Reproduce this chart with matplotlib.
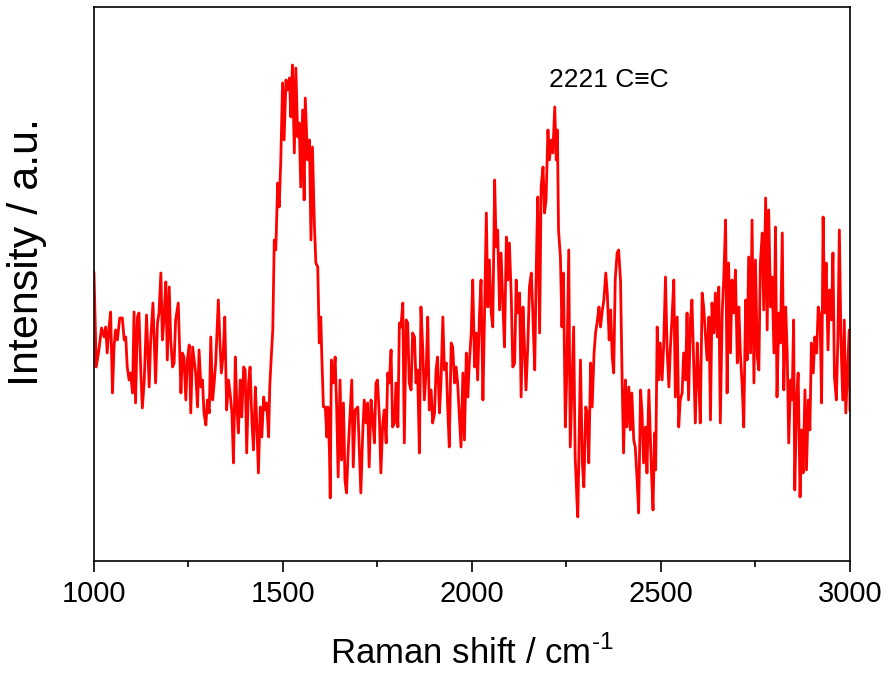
import numpy as np
import matplotlib
matplotlib.use('Agg')
import matplotlib.pyplot as plt
from matplotlib.ticker import MultipleLocator

# Raman spectrum, split into four ranges
shift_a = [1000, 1006, 1013, 1020, 1027, 1031, 1035, 1040, 1044, 1049, 1053, 1057, 1062, 1068, 1075, 1080, 1084, 1088,
           1093, 1097, 1102, 1106, 1110, 1115, 1119, 1124, 1128, 1133, 1139, 1146, 1150, 1156, 1163, 1168, 1172, 1177,
           1181, 1185, 1190, 1194, 1199, 1203, 1208, 1212, 1216, 1223, 1230, 1234, 1238, 1243, 1247, 1252, 1256, 1261,
           1265, 1269, 1274, 1278, 1283, 1287, 1291, 1296, 1300, 1305, 1309, 1314, 1318, 1322, 1329, 1333, 1337, 1342,
           1346, 1351, 1356, 1360, 1365, 1369, 1374, 1378, 1382, 1387, 1391, 1396, 1400, 1404, 1409, 1413, 1418, 1422,
           1427, 1431, 1435, 1440, 1444, 1449, 1453, 1457, 1462, 1465, 1469, 1473, 1477, 1481]
intensity_a = [287, 193, 210, 232, 223, 233, 207, 233, 248, 167, 213, 230, 220, 242, 242, 220, 223, 193,
               180, 187, 167, 248, 157, 243, 247, 187, 152, 180, 245, 173, 220, 257, 177, 237, 247, 287,
               220, 240, 278, 200, 273, 220, 193, 197, 240, 257, 167, 207, 203, 160, 200, 215, 147, 213,
               200, 187, 153, 210, 173, 180, 147, 135, 160, 147, 223, 160, 177, 197, 260, 220, 187, 207,
               243, 150, 180, 167, 147, 97, 203, 153, 127, 180, 143, 193, 190, 107, 177, 193, 137, 110,
               173, 133, 87, 153, 123, 163, 150, 157, 123, 173, 203, 230, 320, 310]

shift_b = [1486, 1490, 1494, 1499, 1503, 1508, 1512, 1517, 1521, 1525, 1530, 1534, 1539, 1543, 1547, 1552, 1556, 1559,
           1565, 1570, 1574, 1578, 1583, 1587, 1592, 1596, 1600, 1603, 1607, 1612, 1616, 1619, 1623, 1625, 1628, 1633,
           1638, 1642, 1646, 1651, 1655, 1660, 1664, 1668, 1673, 1677, 1682, 1686, 1691, 1698, 1702, 1706, 1711, 1715,
           1720, 1724, 1728, 1733, 1737, 1742, 1746, 1750, 1755, 1759, 1764, 1768, 1773, 1777, 1781, 1786, 1790, 1795,
           1799, 1804, 1808, 1812, 1817, 1821, 1826, 1830, 1834, 1839, 1843, 1848, 1852, 1856, 1861, 1865, 1870, 1874,
           1879, 1883, 1887, 1892, 1896, 1901, 1905, 1909, 1914, 1918, 1923, 1927, 1932, 1936, 1940, 1945, 1949, 1954,
           1958, 1962]
intensity_b = [377, 353, 397, 477, 420, 480, 470, 482, 443, 495, 407, 492, 423, 437, 373, 450, 360, 462,
               400, 420, 320, 413, 337, 297, 293, 217, 243, 200, 153, 153, 123, 153, 107, 62, 200, 177,
               203, 153, 83, 180, 100, 157, 80, 67, 113, 143, 180, 93, 150, 153, 110, 67, 127, 160,
               137, 157, 93, 160, 143, 117, 177, 180, 143, 87, 137, 150, 117, 187, 177, 210, 133, 137,
               177, 133, 237, 233, 257, 117, 240, 237, 177, 170, 227, 223, 177, 190, 107, 253, 210, 160,
               190, 243, 150, 170, 137, 147, 190, 203, 147, 177, 243, 190, 197, 150, 113, 217, 213, 177,
               193, 177]

shift_c = [1971, 1976, 1980, 1985, 1989, 1993, 1998, 2002, 2007, 2011, 2015, 2020, 2024, 2029, 2033, 2038, 2042, 2046,
           2051, 2055, 2060, 2064, 2068, 2073, 2077, 2082, 2086, 2091, 2095, 2099, 2104, 2108, 2113, 2117, 2121, 2126,
           2130, 2135, 2139, 2143, 2148, 2152, 2157, 2161, 2166, 2170, 2174, 2179, 2183, 2188, 2192, 2196, 2201, 2205,
           2210, 2214, 2219, 2223, 2226, 2229, 2234, 2238, 2242, 2247, 2251, 2256, 2260, 2265, 2269, 2273, 2278, 2280,
           2283, 2287, 2292, 2296, 2301, 2305, 2309, 2314, 2318, 2323, 2327, 2332, 2336, 2340, 2345, 2349, 2354, 2358,
           2363, 2367, 2371, 2375, 2379, 2384, 2388, 2393, 2397, 2401, 2406, 2410, 2415, 2419, 2423, 2428, 2432, 2437,
           2441, 2446, 2450, 2454, 2459, 2463, 2468]
intensity_c = [113, 187, 120, 207, 163, 197, 227, 280, 193, 227, 180, 247, 280, 160, 240, 347, 253, 300,
               247, 233, 380, 313, 330, 250, 307, 253, 213, 323, 280, 317, 263, 193, 197, 280, 247, 267,
               163, 253, 213, 170, 217, 273, 287, 247, 190, 290, 363, 227, 373, 393, 347, 360, 430, 400,
               420, 407, 453, 400, 430, 330, 303, 233, 287, 133, 187, 310, 113, 180, 233, 103, 57, 43,
               113, 200, 97, 73, 153, 147, 97, 197, 153, 207, 227, 240, 253, 233, 250, 260, 287, 267,
               220, 250, 203, 187, 280, 307, 310, 280, 187, 107, 180, 133, 173, 130, 167, 120, 113, 80,
               47, 170, 147, 97, 133, 87, 170]

shift_d = [2475, 2479, 2483, 2486, 2490, 2494, 2498, 2503, 2507, 2512, 2516, 2521, 2525, 2529, 2534, 2538, 2543, 2547,
           2551, 2556, 2560, 2565, 2569, 2573, 2578, 2582, 2587, 2591, 2596, 2600, 2604, 2609, 2613, 2618, 2622, 2627,
           2631, 2635, 2640, 2644, 2649, 2653, 2657, 2662, 2666, 2671, 2675, 2679, 2684, 2688, 2693, 2697, 2702, 2706,
           2710, 2715, 2719, 2724, 2728, 2732, 2737, 2741, 2746, 2750, 2755, 2759, 2763, 2768, 2772, 2777, 2781, 2785,
           2790, 2794, 2799, 2803, 2807, 2812, 2816, 2821, 2825, 2830, 2834, 2838, 2843, 2847, 2851, 2854, 2859, 2863,
           2868, 2872, 2876, 2881, 2885, 2890, 2894, 2898, 2903, 2907, 2912, 2916, 2921, 2925, 2929, 2933, 2937, 2942,
           2946, 2951, 2955, 2959, 2964, 2968, 2972, 2976, 2981, 2985, 2989, 2994, 2998, 3000]
intensity_d = [87, 50, 127, 90, 233, 180, 217, 180, 213, 283, 213, 173, 213, 240, 280, 163, 243, 133,
               160, 167, 207, 180, 247, 160, 240, 260, 193, 137, 217, 180, 137, 267, 253, 223, 200, 243,
               140, 257, 227, 267, 223, 273, 137, 247, 280, 340, 167, 297, 207, 280, 247, 290, 197, 253,
               207, 173, 133, 260, 200, 303, 207, 340, 177, 300, 203, 190, 297, 327, 250, 362, 230, 350,
               253, 283, 207, 333, 163, 247, 217, 327, 170, 253, 207, 117, 180, 160, 240, 70, 163, 187,
               63, 130, 87, 170, 90, 160, 130, 217, 187, 223, 207, 253, 243, 157, 343, 247, 297, 210,
               270, 240, 307, 183, 160, 220, 330, 223, 160, 240, 147, 193, 230, 150]

shift = np.array(shift_a + shift_b + shift_c + shift_d)
intensity = np.array(intensity_a + intensity_b + intensity_c + intensity_d)

plt.rcParams['font.family'] = ['Liberation Sans', 'DejaVu Sans']
plt.rcParams['mathtext.fontset'] = 'custom'
plt.rcParams['mathtext.rm'] = 'Liberation Sans'

fig = plt.figure(figsize=(8.9, 6.84), dpi=100)
ax = fig.add_axes([0.1056, 0.1803, 0.8494, 0.8095])

ax.plot(shift, intensity, color='red', lw=2.0)

ax.set_xlim(1000, 3000)
ax.set_ylim(-0.7, 553)
ax.set_yticks([])
ax.xaxis.set_major_locator(MultipleLocator(500))
ax.xaxis.set_minor_locator(MultipleLocator(250))
ax.tick_params(axis='x', which='major', direction='out', length=8, width=1.2, labelsize=21, pad=6)
ax.tick_params(axis='x', which='minor', direction='out', length=4, width=1.2)
for sp in ax.spines.values():
    sp.set_linewidth(1.2)

ax.set_xlabel(r'Raman shift / cm$^{\text{-1}}$', fontsize=25)
ax.xaxis.set_label_coords(0.5, -0.136)
ax.set_ylabel('Intensity / a.u.', fontsize=31)
ax.yaxis.set_label_coords(-0.062, 0.557)

ax.text(2205, 473, '2221 C\u2261C', fontsize=19, ha='left', va='baseline')

fig.savefig('out.png', dpi=100)
